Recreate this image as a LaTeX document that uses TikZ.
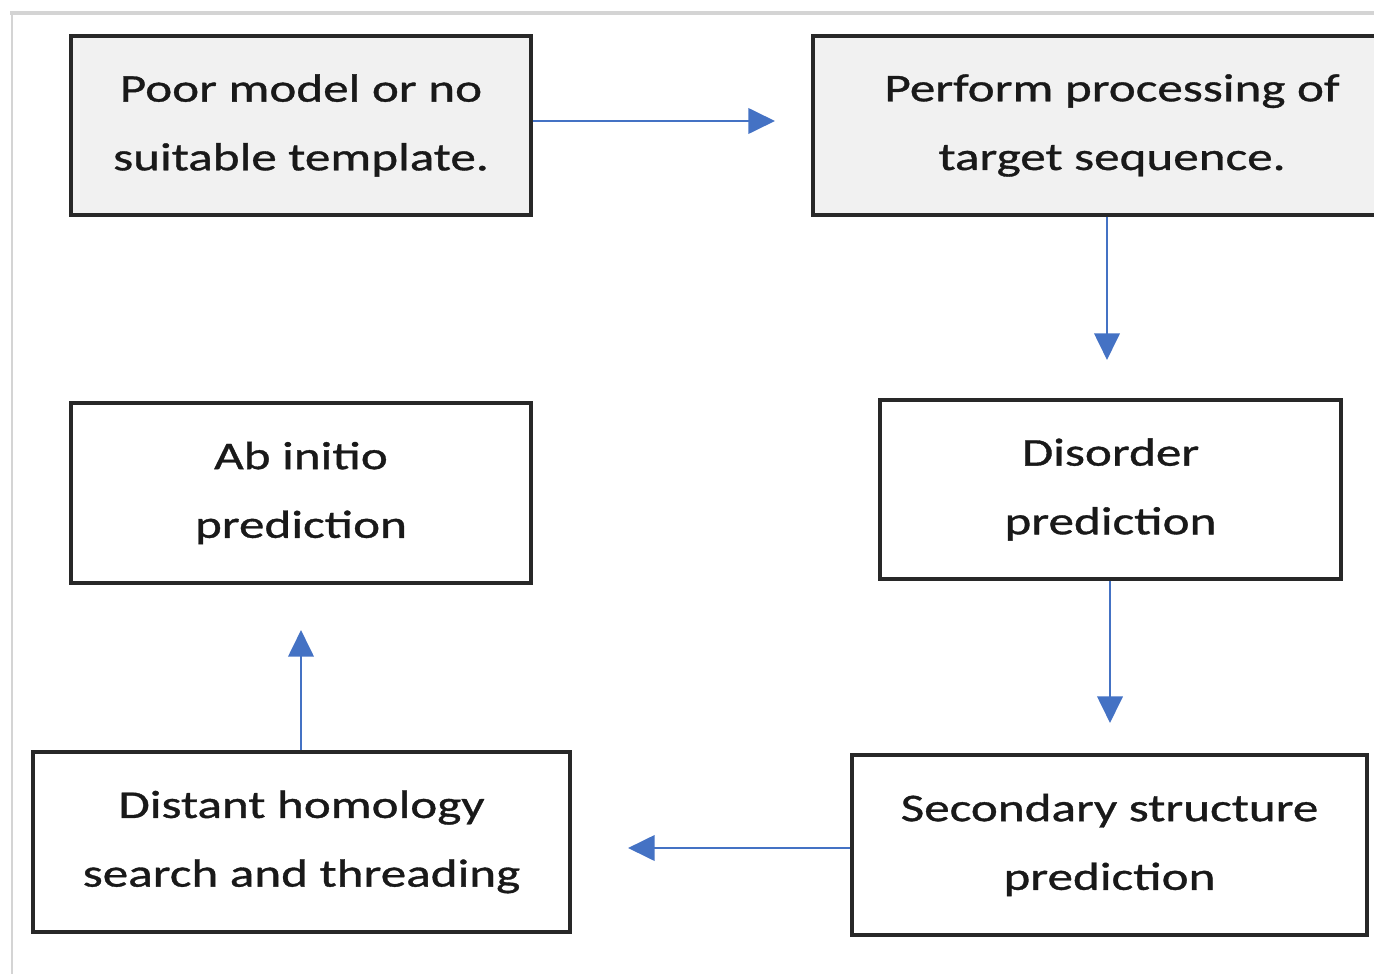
\documentclass[tikz,border=0pt]{standalone}
\usepackage{fontspec}
\setmainfont{Carlito}[FakeStretch=1.3,FakeBold=0.9]
\usetikzlibrary{arrows.meta}
\definecolor{flowblue}{RGB}{68,114,196}
\definecolor{boxline}{RGB}{40,40,40}
\definecolor{boxgray}{RGB}{241,241,241}
\definecolor{framegray}{RGB}{212,212,212}
\tikzset{every picture/.style={line width=0.75pt}}

\begin{document}
\begin{tikzpicture}[x=0.75pt,y=0.75pt,yscale=-1,xscale=1,
  stepbox/.style={draw=boxline,line width=2.4pt,align=center,inner sep=0pt,text={rgb,255:red,25;green,25;blue,25},font=\fontsize{29.5}{51.5}\selectfont},
  flow/.style={draw=flowblue,line width=2.2pt,-{Triangle[length=20pt,width=19pt]}}]
\useasboundingbox (0,0) rectangle (1374,974);
\clip (0,0) rectangle (1374,974);

%frame of the page
\draw [framegray,line width=3.5pt] (10,13) -- (1374,13) ;
\draw [framegray,line width=1pt] (12,15) -- (12,974) ;

% Boxes
\node [stepbox,fill=boxgray,minimum width=345pt,minimum height=134.25pt] (poor) at (301,125.5) {Poor model or no\\suitable template.};
\node [stepbox,fill=boxgray,minimum width=448.5pt,minimum height=134.25pt] (perform) at (1112,125.5) {Perform processing of\\target sequence.};
\node [stepbox,minimum width=345pt,minimum height=135pt] (abinitio) at (301,493) {Ab initio\\prediction};
\node [stepbox,minimum width=345.75pt,minimum height=134.25pt] (disorder) at (1110.5,489.5) {Disorder\\prediction};
\node [stepbox,minimum width=402.75pt,minimum height=135pt] (distant) at (301.5,842) {Distant homology\\search and threading};
\node [stepbox,minimum width=386.25pt,minimum height=135pt] (secondary) at (1109.5,845) {Secondary structure\\prediction};

% Arrow ends
\coordinate (t1) at (775,121);
\coordinate (t2) at (1107,360);
\coordinate (t3) at (1110,723);
\coordinate (t4) at (628,848);
\coordinate (t5) at (301,630);

% Arrows
\draw [flow] (poor.east |- t1) -- (t1) ;
\draw [flow] (perform.south -| t2) -- (t2) ;
\draw [flow] (disorder.south -| t3) -- (t3) ;
\draw [flow] (secondary.west |- t4) -- (t4) ;
\draw [flow] (distant.north -| t5) -- (t5) ;

\end{tikzpicture}
\end{document}
